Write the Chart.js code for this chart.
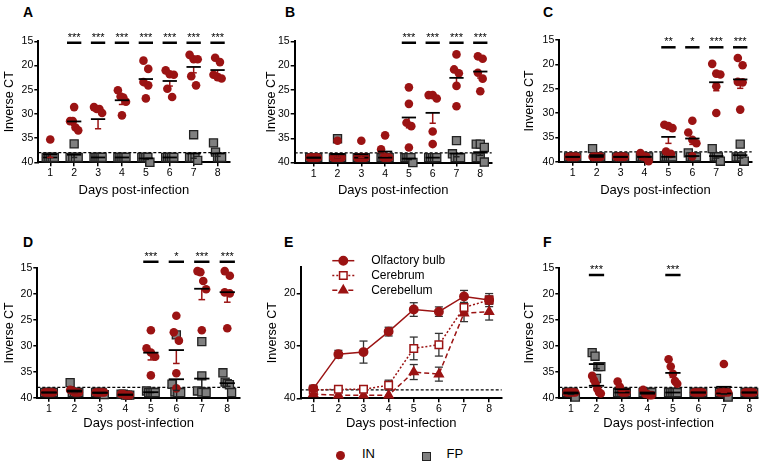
<!DOCTYPE html>
<html>
<head>
<meta charset="utf-8">
<script src="https://cdn.jsdelivr.net/npm/chart.js@4.4.1/dist/chart.umd.min.js"></script>
<style>
  body { margin: 0; background: #fff; font-family: "Liberation Sans", Arial, sans-serif; }
  #wrap { position: relative; width: 767px; height: 465px; overflow: hidden; }
  #wrap canvas { position: absolute; }
  .letter { position: absolute; font-weight: bold; font-size: 14px; line-height: 14px; }
  .key { position: absolute; font-size: 13px; line-height: 13px; }
</style>
</head>
<body>
<div id="wrap">
  <div class="letter" style="left:23px;top:5px">A</div>
  <div class="letter" style="left:285px;top:5px">B</div>
  <div class="letter" style="left:543px;top:5px">C</div>
  <div class="letter" style="left:23px;top:235px">D</div>
  <div class="letter" style="left:284px;top:235px">E</div>
  <div class="letter" style="left:543px;top:235px">F</div>

  <div style="position:absolute;left:335.5px;top:450.8px;width:9px;height:9px;border-radius:50%;background:#9b1313"></div>
  <div class="key" style="left:362px;top:446.5px">IN</div>
  <div style="position:absolute;left:422px;top:451.5px;width:9px;height:9px;box-sizing:border-box;border:1.5px solid #222;background:#808080"></div>
  <div class="key" style="left:446.5px;top:446.5px">FP</div>
</div>
<script>
// ---- data ----
const days = [1, 2, 3, 4, 5, 6, 7, 8];
const yTicks = [15, 20, 25, 30, 35, 40];
const yTicksE = [20, 30, 40];

// A
const inA = [
    [35.3, 39, 39, 39, 39, 39],
    [28.6, 31.5, 31.5, 32.8, 33.4],
    [28.6, 29.0, 29.0, 29.8, 39],
    [25.1, 26.4, 26.6, 27.5, 30.3],
    [19.0, 20.7, 23.4, 24.1, 26.8],
    [21.0, 21.8, 21.9, 24.8, 26.5],
    [17.8, 18.7, 18.7, 22.2, 24.1],
    [18.4, 19.3, 21.9, 22.4, 22.7]
];
const fpA = [
    [39, 39, 39, 39, 39],
    [36.2, 39, 39, 39, 39],
    [39, 39, 39, 39, 39],
    [39, 39, 39, 39, 39],
    [39, 39, 39, 39, 40],
    [39, 39, 39, 39, 39],
    [34.3, 39, 39, 39, 39.6],
    [36.0, 37.9, 39, 39, 39]
];
const sigA = ['', '***', '***', '***', '***', '***', '***', '***'];

// B
const inB = [
    [39, 39, 39, 39, 39],
    [35.5, 39, 39, 39, 39],
    [35.5, 39, 39, 39, 39],
    [34.4, 37.3, 39, 39, 39],
    [24.5, 27.9, 31.8, 32.5, 36.9],
    [26.1, 26.1, 26.8, 33.6, 36.2],
    [17.7, 20.8, 21.6, 24.2, 28.4],
    [18.1, 18.6, 21.5, 22.7, 25.3]
];
const fpB = [
    [39, 39, 39, 39, 39],
    [35.1, 39, 39, 39, 39],
    [39, 39, 39, 39, 39],
    [39, 39, 39, 39, 39],
    [39, 39, 39, 39, 40],
    [39, 39, 39, 39, 39],
    [35.5, 38.2, 39, 39, 39],
    [36.2, 36.2, 36.9, 39, 39, 39.9]
];
const sigB = ['', '', '', '', '***', '***', '***', '***'];

// C
const inC = [
    [39, 39, 39, 39, 39],
    [39, 39, 39, 39, 39],
    [39, 39, 39, 39, 39],
    [38.2, 38.9, 39, 39, 39.9],
    [32.4, 32.7, 33.1, 37.9, 38.4],
    [31.6, 34.0, 35.5, 36.2, 38.9],
    [19.9, 21.9, 22.1, 24.5, 30.0],
    [18.7, 20.2, 23.6, 23.7, 29.3]
];
const fpC = [
    [39, 39, 39, 39, 39],
    [37.3, 39, 39, 39, 39],
    [39, 39, 39, 39, 39],
    [39, 39, 39, 39, 39],
    [39, 39, 39, 39, 39],
    [38.2, 39, 39, 39, 39],
    [37.3, 39, 39, 39, 39.9],
    [36.4, 39, 39, 39, 39.9]
];
const sigC = ['', '', '', '', '**', '*', '***', '***'];

// D
const inD = [
    [39, 39, 39, 39, 39],
    [38.5, 38.6, 39, 39, 39],
    [39, 39, 39, 39, 39],
    [39.3, 39.3, 39.5, 39.5, 39.5],
    [27.0, 30.5, 31.3, 32.1, 35.7],
    [24.2, 27.4, 29.0, 35.3, 38.2],
    [15.6, 15.8, 17.5, 19.1, 27.0],
    [15.6, 16.5, 19.7, 19.9, 26.6]
];
const fpD = [
    [39, 39, 39, 39, 39],
    [37.1, 39, 39, 39, 39],
    [39, 39, 39, 39, 39.4],
    [39.3, 39.3, 39.5, 39.5, 39.5],
    [38.7, 39, 39, 39, 39],
    [27.9, 37.4, 38.9, 39, 39],
    [29.2, 35.8, 38.7, 38.9, 39],
    [35.2, 37.0, 37.3, 37.5, 39]
];
const sigD = ['', '', '', '', '***', '*', '***', '***'];

// E (mean and SEM per tissue)
const olfBulb = [38.2, 31.6, 31.2, 27.3, 23.1, 23.5, 20.6, 21.3];
const olfBulbSem = [0.7, 0.73, 2.1, 0.83, 1.3, 0.9, 1.14, 1.24];
const cerebrum = [38.4, 38.3, 38.3, 37.5, 30.5, 29.8, 22.7, 21.3];
const cerebrumSem = [0.3, 0.3, 0.3, 0.95, 2.16, 2.16, 0.8, 0.8];
const cerebellum = [39.2, 39.4, 39.4, 39.4, 35.0, 35.4, 23.8, 23.5];
const cerebellumSem = [0.3, 0, 0, 0, 1.43, 1.33, 1.6, 1.6];

// F
const inF = [
    [39, 39, 39, 39, 39],
    [35.8, 36.6, 37.3, 38.3, 39, 39.2],
    [36.9, 37.9, 39, 39, 39],
    [38.5, 39.3, 39.3, 39.5, 39.5],
    [32.6, 34.0, 35.4, 36.8, 37.3],
    [39, 39, 39, 39, 39],
    [33.5, 39, 39, 39, 39],
    [39, 39, 39, 39, 39]
];
const fpF = [
    [39, 39, 39, 39, 39.9],
    [31.3, 32.0, 34.0, 34.0, 36.3],
    [39, 39, 39, 39, 39],
    [39, 39, 39, 39, 39],
    [39, 39, 39, 39, 39],
    [39, 39, 39, 39, 39],
    [39, 39, 39, 39, 39.9],
    [39, 39, 39, 39, 39]
];
const sigF = ['', '***', '', '', '***', '', '', ''];

// ---- drawing ----
Chart.defaults.font.family = '"Liberation Sans", Arial, sans-serif';
Chart.defaults.color = '#000';
const RED = '#9b1313';
const GREY = '#808080';
const wrap = document.getElementById('wrap');

const mean = (v) => v.reduce((a, b) => a + b, 0) / v.length;
const sem = (v) => {
    const m = mean(v);
    const sd = Math.sqrt(v.reduce((a, b) => a + (b - m) * (b - m), 0) / (v.length - 1));
    return sd / Math.sqrt(v.length);
};

// spread points with close values side by side
const spread = (vals) => {
    const idx = vals.map((v, i) => i).sort((a, b) => vals[a] - vals[b]);
    const offs = new Array(vals.length).fill(0);
    let cluster = [];
    const flush = () => {
        const k = cluster.length;
        const step = k > 1 ? Math.min(0.2, 0.34 / (k - 1)) : 0;
        cluster.forEach((j, n) => { offs[j] = (n - (k - 1) / 2) * step; });
        cluster = [];
    };
    idx.forEach(j => {
        if (cluster.length && vals[j] - vals[cluster[cluster.length - 1]] > 2.0) flush();
        cluster.push(j);
    });
    flush();
    return offs;
};

const toPoints = (groups) => groups.flatMap((vals, i) => {
    const o = spread(vals);
    return vals.map((v, j) => ({ x: days[i] + o[j], y: v }));
});

const makeCanvas = (g) => {
    const c = document.createElement('canvas');
    c.width = g.w;
    c.height = g.h;
    c.style.left = g.x + 'px';
    c.style.top = g.y + 'px';
    wrap.appendChild(c);
    return c;
};

const makeScales = (g, ticksY) => ({
    x: {
        type: 'linear', min: g.xmin, max: g.xmax,
        afterBuildTicks: s => { s.ticks = days.map(v => ({ value: v })); },
        afterFit: s => { s.height = g.y + g.h - g.bottom; },
        border: { color: '#000', width: 2 },
        grid: { drawOnChartArea: false, color: '#000', lineWidth: 1.5, tickLength: 4 },
        ticks: { font: { size: 10.5 }, padding: 1, autoSkip: false, maxRotation: 0 },
        title: { display: true, text: 'Days post-infection', font: { size: 13 }, padding: { top: 0, bottom: 2 } }
    },
    y: {
        type: 'linear', reverse: true, min: 15, max: 40,
        afterBuildTicks: s => { s.ticks = ticksY.map(v => ({ value: v })); },
        afterFit: s => { s.width = g.left - g.x; },
        border: { color: '#000', width: 2 },
        grid: { drawOnChartArea: false, color: '#000', lineWidth: 1.5, tickLength: 4 },
        ticks: { font: { size: 10.5 }, padding: 1 },
        title: { display: true, text: 'Inverse CT', font: { size: 12.5 }, padding: { top: 2, bottom: 0 } }
    }
});

const baseOptions = (g, ticksY) => ({
    responsive: false,
    animation: false,
    events: [],
    layout: { padding: { top: g.top - g.y, right: g.x + g.w - g.right, left: 0, bottom: 0 } },
    plugins: { legend: { display: false }, tooltip: { enabled: false } },
    scales: makeScales(g, ticksY)
});

const hline = (ctx, x1, y1, x2, y2) => {
    ctx.beginPath(); ctx.moveTo(x1, y1); ctx.lineTo(x2, y2); ctx.stroke();
};

const cutoffLine = (chart, value) => {
    const { ctx, chartArea: a, scales: { y } } = chart;
    const yy = y.getPixelForValue(value);
    ctx.save();
    ctx.strokeStyle = '#000';
    ctx.lineWidth = 1.3;
    ctx.setLineDash([3, 2]);
    hline(ctx, a.left, yy, a.right, yy);
    ctx.restore();
};

const scatterDecor = (p) => ({
    id: 'decor' + p.name,
    beforeDatasetsDraw(chart) { cutoffLine(chart, 38); },
    afterDatasetsDraw(chart) {
        const { ctx, scales: { x, y } } = chart;
        ctx.save();
        [[p.fp, '#222'], [p.in, RED]].forEach(([groups, col]) => {
            groups.forEach((vals, i) => {
                const d = days[i];
                const m = mean(vals);
                const s = sem(vals);
                const ym = y.getPixelForValue(m);
                const ys = y.getPixelForValue(m + s);
                if (s > 0.05) {
                    ctx.strokeStyle = col;
                    ctx.lineWidth = 1.5;
                    hline(ctx, x.getPixelForValue(d), ym, x.getPixelForValue(d), ys);
                    hline(ctx, x.getPixelForValue(d - 0.13), ys, x.getPixelForValue(d + 0.13), ys);
                }
                ctx.strokeStyle = '#000';
                ctx.lineWidth = 1.8;
                hline(ctx, x.getPixelForValue(d - 0.3), ym, x.getPixelForValue(d + 0.3), ym);
            });
        });
        // significance marks
        const yb = y.getPixelForValue(p.sigLevel);
        ctx.fillStyle = '#000';
        ctx.strokeStyle = '#000';
        ctx.lineWidth = 2.5;
        ctx.font = '11px "Liberation Sans", Arial, sans-serif';
        ctx.textAlign = 'center';
        ctx.textBaseline = 'alphabetic';
        p.sig.forEach((label, i) => {
            if (!label) return;
            const d = days[i];
            hline(ctx, x.getPixelForValue(d - 0.3), yb, x.getPixelForValue(d + 0.3), yb);
            ctx.fillText(label, x.getPixelForValue(d), yb - 2);
        });
        ctx.restore();
    }
});

const panels = [
    { name: 'A', in: inA, fp: fpA, sig: sigA, sigLevel: 15.3, fpOnTop: true,
      g: { x: 0, y: 0, w: 255, h: 200, left: 38.3, right: 229.5, top: 41.3, bottom: 162.3, xmin: 0.5, xmax: 8.5 } },
    { name: 'B', in: inB, fp: fpB, sig: sigB, sigLevel: 15.3, fpOnTop: false,
      g: { x: 262, y: 0, w: 248, h: 200, left: 294.7, right: 491.7, top: 41.3, bottom: 162.5, xmin: 0.2, xmax: 8.48 } },
    { name: 'C', in: inC, fp: fpC, sig: sigC, sigLevel: 16.5, fpOnTop: false,
      g: { x: 520, y: 0, w: 247, h: 200, left: 559.3, right: 751.7, top: 40, bottom: 161.7, xmin: 0.44, xmax: 8.48 } },
    { name: 'D', in: inD, fp: fpD, sig: sigD, sigLevel: 13.8, fpOnTop: false,
      g: { x: 0, y: 210, w: 255, h: 223, left: 37.3, right: 240, top: 268, bottom: 397.7, xmin: 0.54, xmax: 8.5 } },
    { name: 'F', in: inF, fp: fpF, sig: sigF, sigLevel: 16.35, fpOnTop: false,
      g: { x: 520, y: 210, w: 247, h: 223, left: 559.3, right: 758, top: 268, bottom: 397.7, xmin: 0.54, xmax: 8.34 } }
];

panels.forEach(p => {
    const inSet = {
        label: 'IN', data: toPoints(p.in), clip: false,
        pointStyle: 'circle', pointRadius: 4.3, pointBorderWidth: 0,
        pointBackgroundColor: RED, pointBorderColor: RED
    };
    const fpSet = {
        label: 'FP', data: toPoints(p.fp), clip: false,
        pointStyle: 'rect', pointRadius: 5.7, pointBorderWidth: 1.3,
        pointBackgroundColor: GREY, pointBorderColor: '#222'
    };
    // first dataset is painted last (on top)
    new Chart(makeCanvas(p.g), {
        type: 'scatter',
        data: { datasets: p.fpOnTop ? [fpSet, inSet] : [inSet, fpSet] },
        options: baseOptions(p.g, yTicks),
        plugins: [scatterDecor(p)]
    });
});

// panel E: brain regions over time
const gE = { x: 263, y: 210, w: 250, h: 223, left: 300.7, right: 501.7, top: 267, bottom: 398.3, xmin: 0.5, xmax: 8.5 };
const seriesE = [
    { label: 'Olfactory bulb', vals: olfBulb, err: olfBulbSem, dash: [], pointStyle: 'circle', radius: 4.2, fill: RED },
    { label: 'Cerebrum', vals: cerebrum, err: cerebrumSem, dash: [2, 2], pointStyle: 'rect', radius: 5.3, fill: '#fff' },
    { label: 'Cerebellum', vals: cerebellum, err: cerebellumSem, dash: [5, 3], pointStyle: 'triangle', radius: 5, fill: RED }
];

const decorE = {
    id: 'decorE',
    beforeDatasetsDraw(chart) {
        cutoffLine(chart, 38.4);
        const { ctx, scales: { x, y } } = chart;
        ctx.save();
        ctx.strokeStyle = '#333';
        ctx.lineWidth = 1.3;
        seriesE.forEach(s => {
            s.vals.forEach((v, i) => {
                if (!s.err[i]) return;
                const d = days[i];
                const y1 = y.getPixelForValue(v - s.err[i]);
                const y2 = y.getPixelForValue(v + s.err[i]);
                const xc = x.getPixelForValue(d);
                const x1 = x.getPixelForValue(d - 0.16);
                const x2 = x.getPixelForValue(d + 0.16);
                hline(ctx, xc, y1, xc, y2);
                hline(ctx, x1, y1, x2, y1);
                hline(ctx, x1, y2, x2, y2);
            });
        });
        ctx.restore();
    },
    afterDraw(chart) {
        const { ctx, chartArea: a } = chart;
        ctx.save();
        seriesE.forEach((s, i) => {
            const yy = a.top - 6.3 + i * 14.8;
            ctx.strokeStyle = RED;
            ctx.lineWidth = 1.5;
            ctx.setLineDash(s.dash);
            hline(ctx, a.left + 31.6, yy, a.left + 53.6, yy);
            ctx.setLineDash([]);
            ctx.fillStyle = s.fill;
            ctx.strokeStyle = RED;
            Chart.helpers.drawPoint(ctx, { pointStyle: s.pointStyle, radius: s.radius, rotation: 0, borderWidth: 1.5 }, a.left + 42.6, yy);
            ctx.fillStyle = '#000';
            ctx.font = '12px "Liberation Sans", Arial, sans-serif';
            ctx.textAlign = 'left';
            ctx.textBaseline = 'middle';
            ctx.fillText(s.label, a.left + 70.5, yy);
        });
        ctx.restore();
    }
};

new Chart(makeCanvas(gE), {
    type: 'scatter',
    data: {
        datasets: seriesE.map(s => ({
            label: s.label,
            data: s.vals.map((v, i) => ({ x: days[i], y: v })),
            showLine: true, clip: false,
            borderColor: RED, borderWidth: 1.5, borderDash: s.dash,
            pointStyle: s.pointStyle, pointRadius: s.radius, pointBorderWidth: 1.5,
            pointBackgroundColor: s.fill, pointBorderColor: RED
        }))
    },
    options: baseOptions(gE, yTicksE),
    plugins: [decorE]
});
</script>
</body>
</html>
